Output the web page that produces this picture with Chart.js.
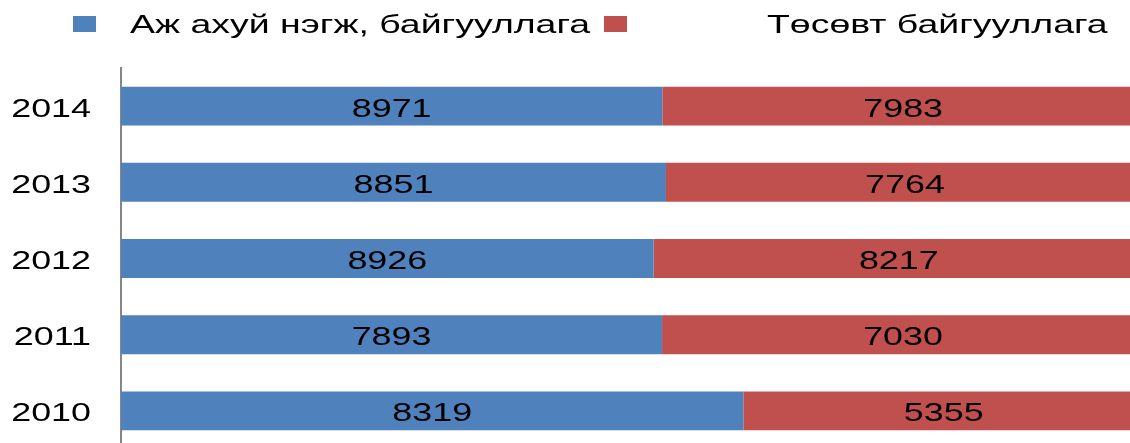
<!DOCTYPE html>
<html>
<head>
<meta charset="utf-8">
<script src="https://cdn.jsdelivr.net/npm/chart.js@4"></script>
<style>
  html, body { margin:0; padding:0; background:#fff; overflow:hidden; }
  #wrap { position:relative; width:1146px; height:452px; }
</style>
</head>
<body>
<div id="wrap"><canvas id="c"></canvas></div>
<script>
// ── Data ─────────────────────────────────────────────────────────
const years = ["2010", "2011", "2012", "2013", "2014"];
const business = [8319, 7893, 8926, 8851, 8971];   // Аж ахуй нэгж, байгууллага
const budget   = [5355, 7030, 8217, 7764, 7983];   // Төсөвт байгууллага
const seriesNames = ["Аж ахуй нэгж, байгууллага", "Төсөвт байгууллага"];
const COLORS = ["#4F81BD", "#C0504D"];

// 100% stacked: share of each year's total
const totals = years.map((_, i) => business[i] + budget[i]);
const bizPct = business.map((v, i) => v / totals[i] * 100);
const budPct = budget.map((v, i) => v / totals[i] * 100);

// text in the original is stretched horizontally
const SX = 1.38;
const SX_LEGEND = 1.44;
const FONT = '26px "Liberation Sans", Arial, sans-serif';

function wideText(ctx, txt, x, y, align, sx) {
  ctx.save();
  ctx.translate(x, y);
  ctx.scale(sx || SX, 1);
  ctx.textAlign = align;
  ctx.textBaseline = "alphabetic";
  ctx.fillText(txt, 0, 0);
  ctx.restore();
}

// ── Labels, year ticks, legend ──────────────────────────────────
const textPlugin = {
  id: "textPlugin",
  afterDatasetsDraw(chart) {
    const ctx = chart.ctx;
    const yS = chart.scales.y;
    ctx.save();
    ctx.font = FONT;
    ctx.fillStyle = "#000";
    const raw = [business, budget];
    chart.data.datasets.forEach((ds, di) => {
      chart.getDatasetMeta(di).data.forEach((bar, i) => {
        const cx = (bar.x + bar.base) / 2;
        wideText(ctx, String(raw[di][i]), cx, bar.y + 10.5, "center");
      });
    });
    years.forEach((yr, i) => {
      wideText(ctx, yr, 91, yS.getPixelForValue(i) + 10.5, "right");
    });
    // legend
    ctx.fillStyle = COLORS[0];
    ctx.fillRect(73, 16, 23, 16);
    ctx.fillStyle = COLORS[1];
    ctx.fillRect(604, 16, 23, 16);
    ctx.fillStyle = "#000";
    wideText(ctx, seriesNames[0], 130, 33, "left", SX_LEGEND);
    wideText(ctx, seriesNames[1], 767, 33, "left", SX_LEGEND);
    ctx.restore();
  }
};

new Chart(document.getElementById("c").getContext("2d"), {
  type: "bar",
  data: {
    labels: years,
    datasets: [
      { label: seriesNames[0], data: bizPct, backgroundColor: COLORS[0] },
      { label: seriesNames[1], data: budPct, backgroundColor: COLORS[1] }
    ]
  },
  options: {
    indexAxis: "y",
    responsive: true, maintainAspectRatio: false, animation: false,
    layout: { padding: { left: 121, top: 68, right: 2, bottom: 3 } },
    categoryPercentage: 1, barPercentage: 0.51,
    plugins: { legend: { display: false }, tooltip: { enabled: false } },
    scales: {
      x: { stacked: true, min: 0, max: 100, display: false },
      y: {
        stacked: true, reverse: true,
        grid: { display: false, drawTicks: false },
        ticks: { display: false },
        border: { display: true, color: "#868686", width: 2 }
      }
    }
  },
  plugins: [textPlugin]
});
</script>
</body>
</html>
